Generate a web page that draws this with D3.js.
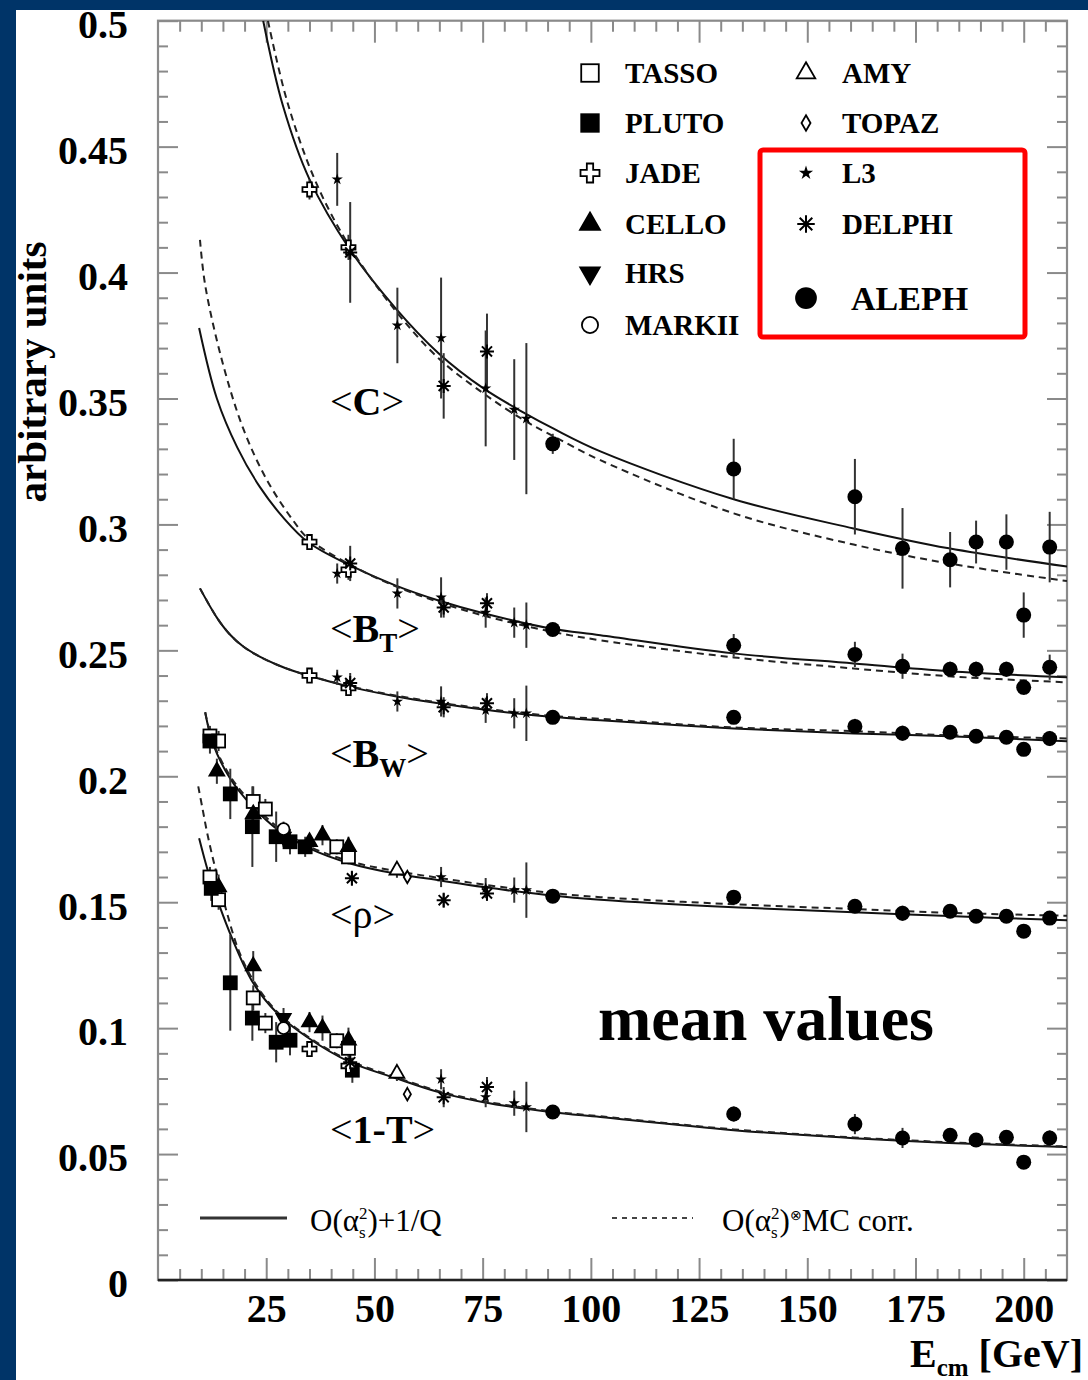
<!DOCTYPE html>
<html>
<head>
<meta charset="utf-8">
<script src="https://cdn.jsdelivr.net/npm/d3@7"></script>
<style>
  body { margin: 0; background: #003468; }
  svg text { font-family: "Liberation Serif", "Times New Roman", serif; fill: #000; }
</style>
</head>
<body>
<svg id="chart"></svg>
<script>
var svgWidth = 1088;
var svgHeight = 1380;

// plot frame (page pixels)
var frame = { left: 158, right: 1067, top: 20.7, bottom: 1280 };

// ---------------- data ----------------
// low energy experiments: [Ecm, observable, value, error]
var tasso = [
  [12, "rho", 0.216, 0.004], [14, "rho", 0.214, 0.004], [22, "rho", 0.190, 0.006],
  [24.8, "rho", 0.187, 0.004], [41.3, "rho", 0.172, 0.003], [44, "rho", 0.168, 0.003],
  [12, "T", 0.160, 0.004], [14, "T", 0.151, 0.004], [22, "T", 0.112, 0.005],
  [24.8, "T", 0.102, 0.004], [41.3, "T", 0.095, 0.003], [44, "T", 0.092, 0.003]
];
var pluto = [
  [12, "rho", 0.214, 0.005], [16.7, "rho", 0.193, 0.010], [21.8, "rho", 0.180, 0.016],
  [27.3, "rho", 0.176, 0.010], [30.5, "rho", 0.174, 0.005], [34, "rho", 0.172, 0.004],
  [12.3, "T", 0.1555, 0.005], [16.7, "T", 0.118, 0.019], [21.8, "T", 0.104, 0.009],
  [27.3, "T", 0.0944, 0.008], [30.5, "T", 0.0952, 0.006], [44.9, "T", 0.0833, 0.005]
];
var jade = [
  [35, "C", 0.433, 0.004], [44, "C", 0.410, 0.005],
  [35, "BT", 0.293, 0.003], [44, "BT", 0.282, 0.004],
  [35, "BW", 0.240, 0.002], [44, "BW", 0.235, 0.003],
  [35, "T", 0.0917, 0.003], [44, "T", 0.085, 0.004]
];
var cello = [
  [13.6, "rho", 0.202, 0.005], [22, "rho", 0.185, 0.006], [35, "rho", 0.174, 0.003],
  [38, "rho", 0.1766, 0.004], [44, "rho", 0.172, 0.004],
  [14, "T", 0.156, 0.005], [22, "T", 0.1246, 0.006], [35, "T", 0.1024, 0.004],
  [38, "T", 0.100, 0.005], [44, "T", 0.0952, 0.005]
];
var hrs = [[29, "rho", 0.176, 0.004], [29, "T", 0.104, 0.004]];
var markii = [[29, "rho", 0.179, 0.003], [29, "T", 0.100, 0.003]];
var amy = [[55.2, "rho", 0.1627, 0.003], [55.2, "T", 0.082, 0.003]];
var topaz = [[57.6, "rho", 0.160, 0.002], [57.6, "T", 0.0738, 0.002]];
var l3 = [
  [41.4, "C", 0.437, 0.0105], [55.3, "C", 0.379, 0.015], [65.4, "C", 0.374, 0.024],
  [75.7, "C", 0.354, 0.023], [82.3, "C", 0.3456, 0.020], [85.1, "C", 0.342, 0.030],
  [41.4, "BT", 0.2805, 0.004], [55.3, "BT", 0.2726, 0.006], [65.4, "BT", 0.271, 0.008],
  [75.7, "BT", 0.265, 0.006], [82.3, "BT", 0.261, 0.006], [85.1, "BT", 0.260, 0.009],
  [41.4, "BW", 0.2393, 0.003], [55.3, "BW", 0.2297, 0.004], [65.4, "BW", 0.2297, 0.006],
  [75.7, "BW", 0.2262, 0.005], [82.3, "BW", 0.225, 0.006], [85.1, "BW", 0.225, 0.011],
  [65.4, "rho", 0.160, 0.004], [75.7, "rho", 0.1556, 0.004], [82.3, "rho", 0.1548, 0.005],
  [85.1, "rho", 0.1548, 0.011],
  [65.4, "T", 0.0797, 0.004], [75.7, "T", 0.0726, 0.004], [82.3, "T", 0.0702, 0.005],
  [85.1, "T", 0.0687, 0.010]
];
var delphi = [
  [44.4, "C", 0.408, 0.020], [66, "C", 0.355, 0.013], [76, "C", 0.3687, 0.015],
  [44.4, "BT", 0.2845, 0.007], [66, "BT", 0.267, 0.004], [76, "BT", 0.2687, 0.004],
  [44.4, "BW", 0.237, 0.004], [66, "BW", 0.2274, 0.004], [76, "BW", 0.229, 0.004],
  [44.8, "rho", 0.1595, 0.003], [66, "rho", 0.1508, 0.003], [76, "rho", 0.1535, 0.003],
  [44.4, "T", 0.0865, 0.005], [66, "T", 0.0726, 0.004], [76, "T", 0.0766, 0.004]
];

// ALEPH
var alephEnergy = [91.2, 133, 161, 172, 183, 189, 196, 200, 206];
var alephC = [0.332, 0.322, 0.311, 0.2905, 0.286, 0.293, 0.293, 0.264, 0.291];
var alephCErr = [0.004, 0.012, 0.015, 0.016, 0.011, 0.0085, 0.011, 0.009, 0.014];
var alephBT = [0.2583, 0.252, 0.2484, 0.2437, 0.2425, 0.2425, 0.2425, 0.2353, 0.2433];
var alephBTErr = [0.002, 0.0045, 0.005, 0.005, 0.003, 0.003, 0.003, 0.003, 0.005];
var alephBW = [0.2234, 0.2234, 0.2198, 0.2171, 0.2175, 0.2159, 0.2155, 0.2107, 0.215];
var alephBWErr = [0.001, 0.002, 0.003, 0.003, 0.002, 0.002, 0.002, 0.002, 0.003];
var alephRho = [0.1524, 0.152, 0.1484, 0.1456, 0.1464, 0.1444, 0.1444, 0.1385, 0.1437];
var alephRhoErr = [0.001, 0.002, 0.002, 0.003, 0.002, 0.002, 0.002, 0.002, 0.002];
var alephT = [0.0667, 0.0659, 0.0619, 0.0564, 0.0575, 0.0556, 0.0567, 0.0468, 0.0564];
var alephTErr = [0.001, 0.003, 0.004, 0.004, 0.002, 0.002, 0.002, 0.002, 0.003];

// fitted curves: [Ecm, value]
var cSolid = [[24.3,0.5],[28.9,0.466],[35,0.437],[44.4,0.409],[54.8,0.386],[64.8,0.368],[75.2,0.354],
  [84.9,0.344],[91.4,0.338],[102.2,0.329],[133,0.310],[160.7,0.2984],[182.7,0.2905],[210,0.2833]];
var cDashed = [[25.4,0.5],[30,0.467],[36.7,0.435],[44.4,0.410],[54.8,0.385],[64.8,0.366],[75.2,0.352],
  [84.9,0.341],[91.4,0.335],[102.2,0.3255],[133,0.3044],[160.7,0.292],[182.7,0.2845],[210,0.2775]];
var btSolid = [[9.5,0.378],[13.6,0.350],[18.3,0.3306],[23.6,0.3147],[28.9,0.3028],[34.7,0.2929],[44.4,0.2837],
  [54.8,0.2758],[64.8,0.2698],[75.2,0.2647],[90.7,0.2587],[102.2,0.256],[133,0.2488],[160.7,0.2448],[182.7,0.2417],[210,0.2393]];
var btDashed = [[9.7,0.413],[10.9,0.395],[14.8,0.365],[19.7,0.338],[25.2,0.3175],[31.2,0.3016],[34.7,0.2944],
  [44.4,0.284],[54.8,0.2755],[64.8,0.2692],[75.2,0.2638],[90.7,0.2575],[102.2,0.254],[133,0.2472],[160.7,0.2428],[182.7,0.2397],[210,0.2373]];
var bwSolid = [[9.7,0.2746],[13.6,0.263],[16.5,0.2565],[19.7,0.2515],[23.5,0.2475],[27.5,0.2443],[31,0.2420],
  [34.7,0.2400],[44.4,0.2355],[54.8,0.2318],[64.8,0.2290],[75.2,0.2265],[90.7,0.2236],[102.2,0.2222],[133,0.219],
  [160.7,0.217],[182.7,0.2159],[210,0.2139]];
var bwDashed = [[9.7,0.2746],[13.6,0.263],[16.5,0.2565],[19.7,0.2515],[23.5,0.2475],[27.5,0.2443],[31,0.2420],
  [34.7,0.2400],[44.4,0.2357],[54.8,0.2321],[64.8,0.2293],[75.2,0.2269],[90.7,0.2240],[102.2,0.2228],[133,0.2194],
  [160.7,0.2179],[182.7,0.2163],[210,0.215]];
var rhoSolid = [[10.9,0.2254],[12.7,0.213],[16.7,0.199],[21.3,0.189],[27.5,0.179],[34.5,0.1718],[44.4,0.1654],
  [54.8,0.1614],[64.8,0.1587],[75.2,0.1560],[90.7,0.1527],[102.2,0.1510],[133,0.1480],[160.7,0.1460],[182.7,0.1445],[210,0.1428]];
var rhoDashed = [[10.9,0.2254],[12.7,0.2135],[16.7,0.200],[21.3,0.190],[27.5,0.180],[34.5,0.1725],[44.4,0.1662],
  [54.8,0.1624],[64.8,0.1597],[75.2,0.1570],[90.7,0.1537],[102.2,0.1520],[133,0.1492],[160.7,0.1473],[182.7,0.1458],[210,0.1446]];
var tSolid = [[9.5,0.1754],[11.6,0.162],[13.9,0.1500],[17.3,0.1349],[22,0.1179],[27.5,0.106],[34.5,0.0964],
  [44.4,0.0865],[54.8,0.0802],[64.8,0.0746],[75.2,0.0706],[90.7,0.0667],[102.2,0.0647],[133,0.0595],[160.7,0.0563],[182.7,0.0544],[210,0.0528]];
var tDashed = [[9.3,0.196],[10.3,0.187],[11.3,0.178],[12.6,0.168],[13.9,0.159],[15.9,0.146],[18.6,0.131],[22,0.119],
  [27.5,0.1065],[34.5,0.0968],[44.4,0.087],[54.8,0.0806],[64.8,0.075],[75.2,0.071],[90.7,0.067],[102.2,0.065],
  [133,0.0598],[160.7,0.0566],[182.7,0.0547],[210,0.053]];

// axis ticks
var xMajor = [25, 50, 75, 100, 125, 150, 175, 200];
var yMajor = [0, 0.05, 0.1, 0.15, 0.2, 0.25, 0.3, 0.35, 0.4, 0.45, 0.5];

// ---------------- drawing ----------------
var svg = d3.select("#chart")
  .attr("width", svgWidth)
  .attr("height", svgHeight);

svg.append("rect").attr("width", svgWidth).attr("height", svgHeight).attr("fill", "#003468");
svg.append("rect").attr("x", 16).attr("y", 10)
  .attr("width", svgWidth - 16).attr("height", svgHeight - 10).attr("fill", "#fff");

var x = d3.scaleLinear().domain([0, 210]).range([frame.left, frame.right]);
var y = d3.scaleLinear().domain([0, 0.5]).range([frame.bottom, frame.top]);

// ticks
var tickColor = "#8a8a8a";
function styleAxis(g) {
  g.select(".domain").remove();
  g.selectAll(".tick line").attr("stroke", tickColor).attr("stroke-width", 2);
  g.selectAll(".tick text").style("font-size", "40px").style("font-weight", "bold").attr("fill", "#000");
}
var xMinor = d3.range(5, 210, 5).filter(function(d) { return d % 25 !== 0; });
var yMinor = d3.range(1, 50).filter(function(d) { return d % 5 !== 0; }).map(function(d) { return d / 100; });

svg.append("g").attr("transform", "translate(0," + frame.bottom + ")")
  .call(d3.axisBottom(x).tickValues(xMajor).tickSize(-22).tickPadding(14).tickFormat(d3.format("d")))
  .call(styleAxis);
svg.append("g").attr("transform", "translate(0," + frame.bottom + ")")
  .call(d3.axisBottom(x).tickValues(xMinor).tickSize(-11).tickFormat(""))
  .call(styleAxis);
svg.append("g").attr("transform", "translate(0," + frame.top + ")")
  .call(d3.axisTop(x).tickValues(xMajor).tickSize(-22).tickFormat(""))
  .call(styleAxis);
svg.append("g").attr("transform", "translate(0," + frame.top + ")")
  .call(d3.axisTop(x).tickValues(xMinor).tickSize(-11).tickFormat(""))
  .call(styleAxis);

svg.append("g").attr("transform", "translate(" + frame.left + ",0)")
  .call(d3.axisLeft(y).tickValues(yMajor).tickSize(-20).tickPadding(30)
    .tickFormat(function(d) { return String(+d.toFixed(2)); }))
  .call(styleAxis)
  .selectAll(".tick text").attr("dy", "0.42em");
svg.append("g").attr("transform", "translate(" + frame.left + ",0)")
  .call(d3.axisLeft(y).tickValues(yMinor).tickSize(-10).tickFormat(""))
  .call(styleAxis);
svg.append("g").attr("transform", "translate(" + frame.right + ",0)")
  .call(d3.axisRight(y).tickValues(yMajor).tickSize(-20).tickFormat(""))
  .call(styleAxis);
svg.append("g").attr("transform", "translate(" + frame.right + ",0)")
  .call(d3.axisRight(y).tickValues(yMinor).tickSize(-10).tickFormat(""))
  .call(styleAxis);

// frame
svg.append("rect")
  .attr("x", frame.left).attr("y", frame.top)
  .attr("width", frame.right - frame.left).attr("height", frame.bottom - frame.top)
  .attr("fill", "none").attr("stroke", tickColor).attr("stroke-width", 2.2);
svg.append("line")
  .attr("x1", frame.left).attr("x2", frame.right)
  .attr("y1", frame.bottom).attr("y2", frame.bottom)
  .attr("stroke", "#222").attr("stroke-width", 2.5);

// curves
svg.append("clipPath").attr("id", "plotclip").append("rect")
  .attr("x", frame.left).attr("y", frame.top)
  .attr("width", frame.right - frame.left).attr("height", frame.bottom - frame.top);
var curveGroup = svg.append("g").attr("clip-path", "url(#plotclip)");
var line = d3.line()
  .x(function(d) { return x(d[0]); })
  .y(function(d) { return y(d[1]); })
  .curve(d3.curveCatmullRom.alpha(0.5));

[cSolid, btSolid, bwSolid, rhoSolid, tSolid].forEach(function(c) {
  curveGroup.append("path").attr("d", line(c))
    .attr("fill", "none").attr("stroke", "#111").attr("stroke-width", 2);
});
[cDashed, btDashed, bwDashed, rhoDashed, tDashed].forEach(function(c) {
  curveGroup.append("path").attr("d", line(c))
    .attr("fill", "none").attr("stroke", "#222").attr("stroke-width", 2)
    .attr("stroke-dasharray", "7,5");
});

// markers
function drawMarker(g, type, px, py, s) {
  s = s || 1;
  var m = g.append("g").attr("transform", "translate(" + px + "," + py + ")");
  var sym = function(t, a) { return d3.symbol().type(t).size(a * s * s)(); };
  if (type === "squareOpen" || type === "squareFilled") {
    var h = 6.5 * s;
    m.append("rect").attr("x", -h).attr("y", -h).attr("width", 2 * h).attr("height", 2 * h)
      .attr("fill", type === "squareOpen" ? "#fff" : "#000").attr("stroke", "#000").attr("stroke-width", 1.8);
  } else if (type === "crossOpen") {
    m.append("path").attr("d", sym(d3.symbolCross, 110)).attr("fill", "#fff").attr("stroke", "#000").attr("stroke-width", 1.8);
  } else if (type === "triFilled" || type === "triOpen") {
    m.append("path").attr("d", sym(d3.symbolTriangle, 95))
      .attr("fill", type === "triOpen" ? "#fff" : "#000").attr("stroke", "#000").attr("stroke-width", 1.8);
  } else if (type === "triDown") {
    m.append("path").attr("d", sym(d3.symbolTriangle, 95)).attr("transform", "rotate(180)")
      .attr("fill", "#000").attr("stroke", "#000").attr("stroke-width", 1.5);
  } else if (type === "circleOpen") {
    m.append("circle").attr("r", 6 * s).attr("fill", "#fff").attr("stroke", "#000").attr("stroke-width", 1.8);
  } else if (type === "diamondOpen") {
    m.append("path").attr("d", sym(d3.symbolDiamond, 45)).attr("fill", "#fff").attr("stroke", "#000").attr("stroke-width", 1.8);
  } else if (type === "star") {
    m.append("path").attr("d", sym(d3.symbolStar, 40)).attr("fill", "#000");
  } else if (type === "asterisk") {
    var r = 7 * s, q = r * 0.72;
    var d = "M0," + (-r) + "V" + r + "M" + (-r) + ",0H" + r +
      "M" + (-q) + "," + (-q) + "L" + q + "," + q + "M" + (-q) + "," + q + "L" + q + "," + (-q);
    m.append("path").attr("d", d).attr("fill", "none").attr("stroke", "#000").attr("stroke-width", 2);
  } else if (type === "circleFilled") {
    m.append("circle").attr("r", 7.5 * s).attr("fill", "#000");
  }
}

var alephRows = [];
[[alephC, alephCErr, "C"], [alephBT, alephBTErr, "BT"], [alephBW, alephBWErr, "BW"],
 [alephRho, alephRhoErr, "rho"], [alephT, alephTErr, "T"]].forEach(function(set) {
  alephEnergy.forEach(function(e, i) { alephRows.push([e, set[2], set[0][i], set[1][i]]); });
});

var experiments = [
  { name: "TASSO", rows: tasso, marker: "squareOpen" },
  { name: "PLUTO", rows: pluto, marker: "squareFilled" },
  { name: "JADE", rows: jade, marker: "crossOpen" },
  { name: "CELLO", rows: cello, marker: "triFilled" },
  { name: "HRS", rows: hrs, marker: "triDown" },
  { name: "MARKII", rows: markii, marker: "circleOpen" },
  { name: "AMY", rows: amy, marker: "triOpen" },
  { name: "TOPAZ", rows: topaz, marker: "diamondOpen" },
  { name: "L3", rows: l3, marker: "star" },
  { name: "DELPHI", rows: delphi, marker: "asterisk" },
  { name: "ALEPH", rows: alephRows, marker: "circleFilled" }
];

var errGroup = svg.append("g");
var markGroup = svg.append("g");
experiments.forEach(function(ex) {
  ex.rows.forEach(function(r) {
    errGroup.append("line")
      .attr("x1", x(r[0])).attr("x2", x(r[0]))
      .attr("y1", y(r[2] - r[3])).attr("y2", y(r[2] + r[3]))
      .attr("stroke", "#333").attr("stroke-width", 2);
    drawMarker(markGroup, ex.marker, x(r[0]), y(r[2]));
  });
});

// mixed text helper: parts laid out left to right
function richText(parent, px, py, parts) {
  var cx = px, held = 0;
  parts.forEach(function(p) {
    var t = parent.append("text").attr("x", cx).attr("y", py + (p.dy || 0))
      .style("font-size", p.size + "px")
      .style("font-weight", p.bold ? "bold" : "normal")
      .text(p.t);
    var w = t.node().getComputedTextLength();
    if (p.hold) { held = w; }
    else { cx += Math.max(w, held) + (p.gap || 0); held = 0; }
  });
}

// curve labels
var lab = svg.append("g");
richText(lab, 330, 415, [{ t: "<", size: 40 }, { t: "C", size: 40, bold: true }, { t: ">", size: 40 }]);
richText(lab, 330, 642, [{ t: "<", size: 40 }, { t: "B", size: 40, bold: true },
  { t: "T", size: 27, bold: true, dy: 10 }, { t: ">", size: 40 }]);
richText(lab, 330, 767, [{ t: "<", size: 40 }, { t: "B", size: 40, bold: true },
  { t: "W", size: 27, bold: true, dy: 10 }, { t: ">", size: 40 }]);
richText(lab, 330, 928, [{ t: "<", size: 40 }, { t: "ρ", size: 40 }, { t: ">", size: 40 }]);
richText(lab, 330, 1143, [{ t: "<", size: 40 }, { t: "1-T", size: 40, bold: true }, { t: ">", size: 40 }]);

svg.append("text").attr("x", 598).attr("y", 1040)
  .style("font-size", "64px").style("font-weight", "bold").text("mean values");

// axis titles
svg.append("text")
  .attr("transform", "translate(46,372) rotate(-90)")
  .attr("text-anchor", "middle")
  .style("font-size", "41px").style("font-weight", "bold")
  .text("arbitrary units");
richText(svg, 910, 1367, [{ t: "E", size: 40, bold: true }, { t: "cm", size: 25, bold: true, dy: 9 },
  { t: "\u00a0[GeV]", size: 40, bold: true }]);

// experiment legend
var legendCol1 = [["TASSO", "squareOpen", 73], ["PLUTO", "squareFilled", 123], ["JADE", "crossOpen", 173],
  ["CELLO", "triFilled", 224], ["HRS", "triDown", 273], ["MARKII", "circleOpen", 325]];
var legendCol2 = [["AMY", "triOpen", 73], ["TOPAZ", "diamondOpen", 123], ["L3", "star", 173], ["DELPHI", "asterisk", 224]];
var leg = svg.append("g");
legendCol1.forEach(function(d) {
  drawMarker(leg, d[1], 590, d[2], 1.35);
  leg.append("text").attr("x", 625).attr("y", d[2] + 10)
    .style("font-size", "29px").style("font-weight", "bold").text(d[0]);
});
legendCol2.forEach(function(d) {
  drawMarker(leg, d[1], 806, d[2], 1.25);
  leg.append("text").attr("x", 842).attr("y", d[2] + 10)
    .style("font-size", "29px").style("font-weight", "bold").text(d[0]);
});
drawMarker(leg, "circleFilled", 806, 298, 1.45);
leg.append("text").attr("x", 851).attr("y", 310)
  .style("font-size", "34px").style("font-weight", "bold").text("ALEPH");
leg.append("rect").attr("x", 760).attr("y", 150).attr("width", 265).attr("height", 187)
  .attr("rx", 3).attr("fill", "none").attr("stroke", "#ff0000").attr("stroke-width", 5);

// curve legend
var cl = svg.append("g");
cl.append("line").attr("x1", 200).attr("x2", 287).attr("y1", 1218).attr("y2", 1218)
  .attr("stroke", "#333").attr("stroke-width", 3);
richText(cl, 310, 1231, [{ t: "O(α", size: 31 }, { t: "2", size: 17, dy: -12, hold: true },
  { t: "s", size: 17, dy: 7 }, { t: ")+1/Q", size: 31 }]);
cl.append("line").attr("x1", 612).attr("x2", 693).attr("y1", 1218).attr("y2", 1218)
  .attr("stroke", "#444").attr("stroke-width", 2).attr("stroke-dasharray", "5,5");
richText(cl, 722, 1231, [{ t: "O(α", size: 31 }, { t: "2", size: 17, dy: -12, hold: true },
  { t: "s", size: 17, dy: 7 }, { t: ")", size: 31 }, { t: "⊗", size: 14, dy: -11 },
  { t: "MC corr.", size: 31 }]);
</script>
</body>
</html>
